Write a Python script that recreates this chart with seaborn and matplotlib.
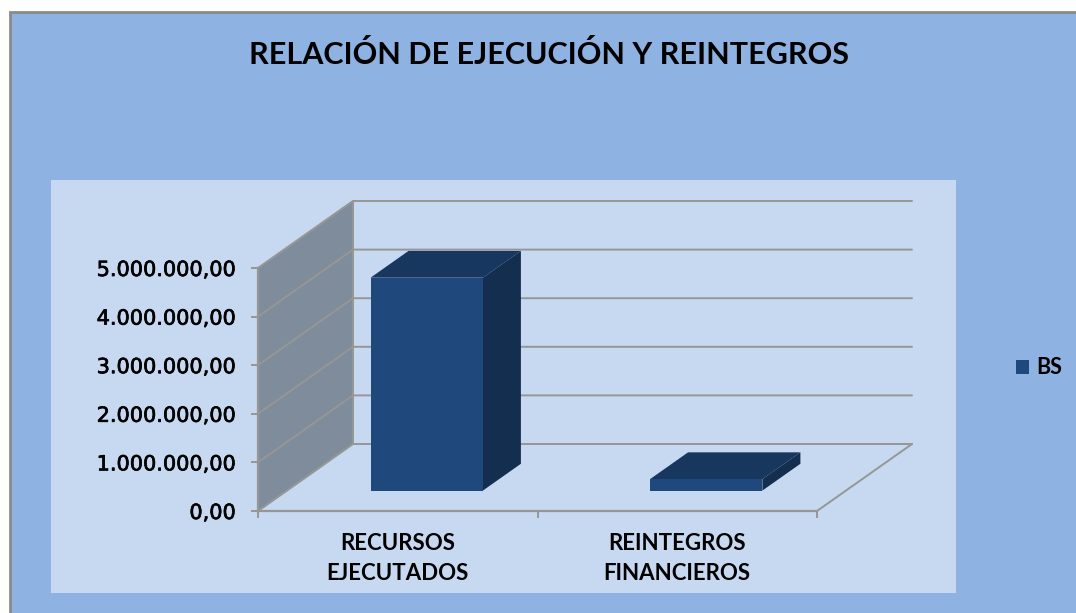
import pandas as pd
import matplotlib
matplotlib.use('Agg')
import matplotlib.pyplot as plt
import matplotlib.patheffects as pe
import seaborn as sns
from matplotlib.patches import Rectangle, Polygon
from matplotlib.transforms import Affine2D

# datos
categorias = ['RECURSOS\nEJECUTADOS', 'REINTEGROS\nFINANCIEROS']
valores = [4380000, 235000]
serie = ['BS', 'BS']
marcas_y = [0, 1000000, 2000000, 3000000, 4000000, 5000000]
etiquetas_y = ['0,00', '1.000.000,00', '2.000.000,00', '3.000.000,00',
               '4.000.000,00', '5.000.000,00']

W, H = 1076, 613
AZUL_FONDO = '#8EB2E2'
AZUL_PANEL = '#C6D9F1'
FRENTE = '#1F497D'
ARRIBA = '#17375E'
LADO = '#142E50'
PARED = '#7F8C9B'
GRIS = '#969696'

sns.set_theme(style='white')
plt.rcParams['font.family'] = ['Lato', 'DejaVu Sans']
plt.rcParams['font.weight'] = 'bold'

df = pd.DataFrame({'categoria': categorias, 'valor': valores, 'serie': serie})

fig = plt.figure(figsize=(W / 100, H / 100), dpi=100, facecolor='white')

# fondo exterior y panel claro
fig.add_artist(Rectangle((10 / W, -20 / H), (W + 20) / W, (H + 8) / H, transform=fig.transFigure,
                         facecolor=AZUL_FONDO, edgecolor='#8A8A8A', linewidth=2, zorder=-2))
fig.add_artist(Rectangle((51 / W, (H - 593) / H), 905 / W, 413 / H, transform=fig.transFigure,
                         facecolor=AZUL_PANEL, edgecolor='none', zorder=-1))

ax = fig.add_axes([258 / W, (H - 511) / H, 559 / W, 243 / H])
ax.patch.set_alpha(0)

sns.barplot(data=df, x='categoria', y='valor', hue='serie', palette=[FRENTE], saturation=1,
            width=0.402, dodge=False, ax=ax, legend=True, zorder=5, linewidth=0, edgecolor='none')
ax.set_xlim(-0.5, 1.5)
ax.set_ylim(0, 5000000)
ax.set_xlabel('')
ax.set_ylabel('')

# profundidad del piso en unidades de datos
dx = 95 / 279.5
dy = 67 / 48.6 * 1000000
x0, x1 = -0.5, 1.5

# pared lateral
ax.add_patch(Polygon([(x0, 0), (x0 + dx, dy), (x0 + dx, 5000000 + dy), (x0, 5000000)],
                     facecolor=PARED, edgecolor='#A0A8B0', linewidth=1, clip_on=False, zorder=1))

# lineas de division en pared y fondo
for v in marcas_y:
    ax.plot([x0, x0 + dx, x1 + dx], [v, v + dy, v + dy], color=GRIS, linewidth=1.4,
            clip_on=False, zorder=2)
ax.plot([x1, x1 + dx], [0, dy], color=GRIS, linewidth=1.4, clip_on=False, zorder=2)
ax.plot([x0 + dx, x0 + dx], [dy, 5000000 + dy], color=GRIS, linewidth=1.4, clip_on=False, zorder=2)

# barras en 3D: el frente lo dibuja seaborn, se desplaza y se agregan tapa y lado
d_frente = 0.305
d_barra = 0.40
mover = Affine2D().translate(d_frente * dx, d_frente * dy)
for barra in list(ax.containers[0]):
    xa = barra.get_x() + d_frente * dx
    xb = xa + barra.get_width()
    y0 = d_frente * dy
    y1 = y0 + barra.get_height()
    px = d_barra * dx
    py = d_barra * dy
    barra.set_transform(mover + ax.transData)
    barra.set_clip_on(False)
    ax.add_patch(Polygon([(xa, y1), (xb, y1), (xb + px, y1 + py), (xa + px, y1 + py)],
                         facecolor=ARRIBA, edgecolor='none', clip_on=False, zorder=4))
    ax.add_patch(Polygon([(xb, y0), (xb + px, y0 + py), (xb + px, y1 + py), (xb, y1)],
                         facecolor=LADO, edgecolor='none', clip_on=False, zorder=4))

# ejes: marcas en los limites de categoria, textos en el centro
sns.despine(ax=ax, top=True, right=True)
for lado in ['left', 'bottom']:
    ax.spines[lado].set_color(GRIS)
    ax.spines[lado].set_linewidth(1.6)
    ax.spines[lado].set_zorder(3)
ax.set_yticks(marcas_y)
ax.set_yticklabels(etiquetas_y, fontsize=15, fontweight='normal', color='black',
                   family=['DejaVu Sans'],
                   path_effects=[pe.withStroke(linewidth=0.5, foreground='black')])
ax.tick_params(axis='y', left=True, length=5, width=1.4, color=GRIS, pad=11)
ax.set_xticks([-0.5, 0.5, 1.5])
ax.set_xticklabels([])
ax.tick_params(axis='x', which='major', bottom=True, length=5, width=1.4, color=GRIS)
ax.set_xticks([0, 1], minor=True)
ax.set_xticklabels(categorias, minor=True, fontsize=16, fontweight='bold', color='black',
                   linespacing=1.52)
ax.tick_params(axis='x', which='minor', bottom=False, length=0, pad=16)

# leyenda
leg = ax.legend(loc='center left', bbox_to_anchor=(1016 / W, (H - 368) / H),
                bbox_transform=fig.transFigure, frameon=False, fontsize=15.5,
                handlelength=0.6, handleheight=0.6, handletextpad=0.36, borderpad=0, borderaxespad=0)
for texto in leg.get_texts():
    texto.set_fontweight('bold')
    texto.set_color('black')

fig.text(549 / W, (H - 54) / H, 'RELACIÓN DE EJECUCIÓN Y REINTEGROS', ha='center', va='center',
         fontsize=22, fontweight='bold', color='black')

fig.savefig('out.png', dpi=100, facecolor='white')
